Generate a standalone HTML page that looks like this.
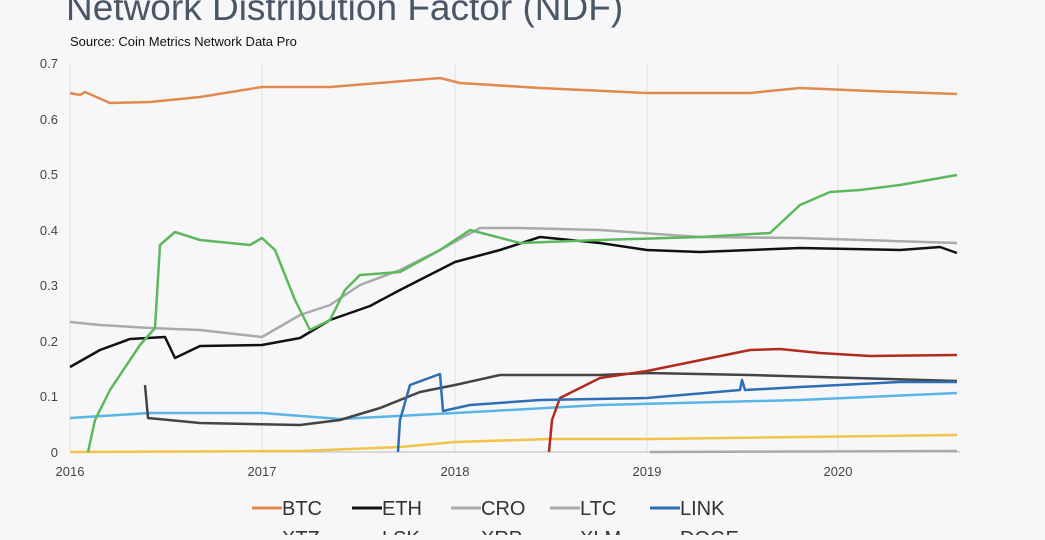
<!DOCTYPE html><html><head><style>
body{margin:0;background:#f7f7f9;width:1045px;height:535px;overflow:hidden;font-family:"Liberation Sans",sans-serif}
</style></head><body>
<svg width="1045" height="535" xmlns="http://www.w3.org/2000/svg" font-family="Liberation Sans, sans-serif">
<text x="66" y="20" font-size="37" fill="#4a5566">Network Distribution Factor (NDF)</text>
<text x="70" y="46" font-size="13" fill="#111">Source: Coin Metrics Network Data Pro</text>
<g stroke="#e2e2e6" stroke-width="1">
<line x1="70" y1="64" x2="70" y2="452"/><line x1="262" y1="64" x2="262" y2="452"/><line x1="455" y1="64" x2="455" y2="452"/><line x1="647" y1="64" x2="647" y2="452"/><line x1="838" y1="64" x2="838" y2="452"/>
</g>
<line x1="70" y1="452" x2="960" y2="452" stroke="#bbb"/>
<g font-size="13" fill="#444" text-anchor="end">
<text x="58" y="68">0.7</text><text x="58" y="124">0.6</text><text x="58" y="179">0.5</text><text x="58" y="235">0.4</text><text x="58" y="290">0.3</text><text x="58" y="346">0.2</text><text x="58" y="401">0.1</text><text x="58" y="457">0</text>
</g>
<g font-size="13" fill="#444" text-anchor="middle">
<text x="70" y="476">2016</text><text x="262" y="476">2017</text><text x="455" y="476">2018</text><text x="647" y="476">2019</text><text x="838" y="476">2020</text>
</g>
<g fill="none" stroke-width="2.5" stroke-linejoin="round">
<polyline stroke="#f2c24a" points="70,452 300,451 400,447 455,442 550,439 650,439 800,437 957,435"/>
<polyline stroke="#aaa" points="650,452 957,451"/>
<polyline stroke="#5ab4e6" points="70,418 150,413 262,413 340,419 455,413 600,405 800,400 957,393"/>
<polyline stroke="#444" points="145,385 148,418 200,423 300,425 340,420 380,408 420,392 455,385 500,375 600,375 647,373 750,375 957,381"/>
<polyline stroke="#b02a1e" points="549,452 552,420 560,398 600,378 647,371 750,350 780,349 820,353 870,356 957,355"/>
<polyline stroke="#2e6eb5" points="398,452 400,420 410,385 440,374 443,411 470,405 540,400 647,398 740,390 742,380 745,390 800,387 900,382 957,382"/>
<polyline stroke="#aaa" points="70,322 100,325 150,328 200,330 262,337 300,315 330,305 360,285 400,270 440,250 480,228 520,228 600,230 700,237 800,238 957,243"/>
<polyline stroke="#111" points="70,367 100,350 130,339 165,337 175,358 200,346 262,345 300,338 330,320 370,306 400,290 455,262 500,250 540,237 580,241 600,243 647,250 700,252 800,248 900,250 940,247 957,253"/>
<polyline stroke="#5cb85c" points="88,452 95,420 110,390 140,345 155,328 160,245 175,232 200,240 250,245 262,238 275,250 295,300 310,330 330,320 345,290 360,275 400,272 440,250 470,230 520,243 600,240 700,237 770,233 800,205 830,192 860,190 900,185 957,175"/>
<polyline stroke="#e08a4e" points="70,93 80,95 85,92 110,103 150,102 200,97 262,87 330,87 440,78 460,83 540,88 647,93 750,93 800,88 870,91 957,94"/>
</g>
<g font-size="20" fill="#333">
<line x1="252" y1="508" x2="282" y2="508" stroke="#e08a4e" stroke-width="3"/><text x="282" y="515">BTC</text>
<line x1="352" y1="508" x2="382" y2="508" stroke="#111" stroke-width="3"/><text x="382" y="515">ETH</text>
<line x1="451" y1="508" x2="481" y2="508" stroke="#aaa" stroke-width="3"/><text x="481" y="515">CRO</text>
<line x1="550" y1="508" x2="580" y2="508" stroke="#aaa" stroke-width="3"/><text x="580" y="515">LTC</text>
<line x1="650" y1="508" x2="680" y2="508" stroke="#2e6eb5" stroke-width="3"/><text x="680" y="515">LINK</text>
<text x="282" y="545">XTZ</text><text x="382" y="545">LSK</text><text x="481" y="545">XRP</text><text x="580" y="545">XLM</text><text x="680" y="545">DOGE</text>
</g>
</svg>
</body></html>
